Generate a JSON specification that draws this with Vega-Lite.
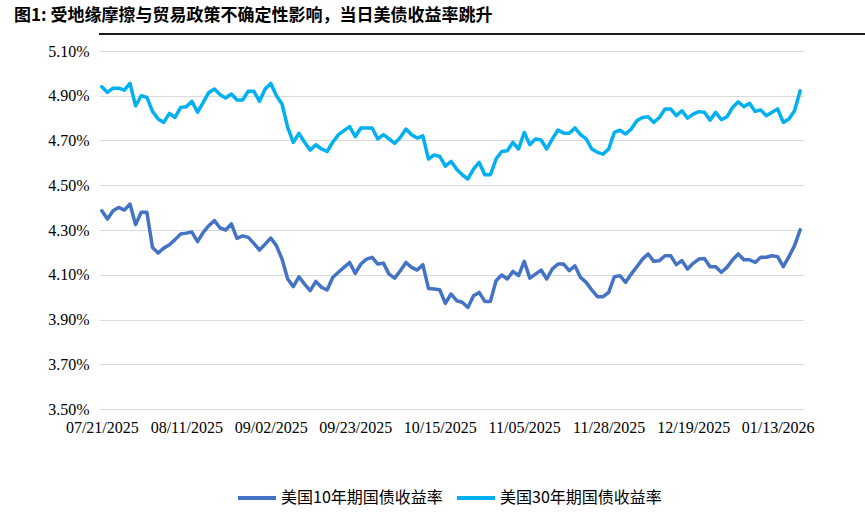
{
  "$schema": "https://vega.github.io/schema/vega-lite/v6.json",
  "padding": {"left": 14, "top": 7, "right": 6, "bottom": 6},
  "background": "white",
  "title": {"text": "图1: 受地缘摩擦与贸易政策不确定性影响，当日美债收益率跳升", "anchor": "start", "font": "Noto Sans CJK SC", "fontSize": 17, "fontWeight": "bold", "color": "#000", "offset": 3},
  "data": {"values": [
{"d":"07/21/2025","a":4.386,"b":4.940},{"d":"07/22/2025","a":4.349,"b":4.915},{"d":"07/23/2025","a":4.386,"b":4.934},{"d":"07/24/2025","a":4.401,"b":4.934},{"d":"07/25/2025","a":4.389,"b":4.925},
{"d":"07/28/2025","a":4.416,"b":4.955},{"d":"07/29/2025","a":4.324,"b":4.855},{"d":"07/30/2025","a":4.379,"b":4.900},{"d":"07/31/2025","a":4.379,"b":4.893},{"d":"08/01/2025","a":4.222,"b":4.830},
{"d":"08/04/2025","a":4.197,"b":4.796},{"d":"08/05/2025","a":4.219,"b":4.781},{"d":"08/06/2025","a":4.234,"b":4.821},{"d":"08/07/2025","a":4.257,"b":4.803},{"d":"08/08/2025","a":4.282,"b":4.848},
{"d":"08/11/2025","a":4.286,"b":4.851},{"d":"08/12/2025","a":4.291,"b":4.875},{"d":"08/13/2025","a":4.248,"b":4.826},{"d":"08/14/2025","a":4.289,"b":4.870},{"d":"08/15/2025","a":4.319,"b":4.915},
{"d":"08/18/2025","a":4.342,"b":4.930},{"d":"08/19/2025","a":4.309,"b":4.905},{"d":"08/20/2025","a":4.300,"b":4.890},{"d":"08/21/2025","a":4.327,"b":4.908},{"d":"08/22/2025","a":4.263,"b":4.881},
{"d":"08/25/2025","a":4.274,"b":4.881},{"d":"08/26/2025","a":4.267,"b":4.920},{"d":"08/27/2025","a":4.240,"b":4.920},{"d":"08/28/2025","a":4.210,"b":4.875},{"d":"08/29/2025","a":4.237,"b":4.930},
{"d":"09/02/2025","a":4.264,"b":4.955},{"d":"09/03/2025","a":4.230,"b":4.900},{"d":"09/04/2025","a":4.170,"b":4.863},{"d":"09/05/2025","a":4.081,"b":4.759},{"d":"09/08/2025","a":4.047,"b":4.692},
{"d":"09/09/2025","a":4.091,"b":4.732},{"d":"09/10/2025","a":4.058,"b":4.692},{"d":"09/11/2025","a":4.029,"b":4.657},{"d":"09/12/2025","a":4.070,"b":4.681},{"d":"09/15/2025","a":4.044,"b":4.662},
{"d":"09/16/2025","a":4.032,"b":4.651},{"d":"09/17/2025","a":4.088,"b":4.692},{"d":"09/18/2025","a":4.111,"b":4.726},{"d":"09/19/2025","a":4.133,"b":4.744},{"d":"09/22/2025","a":4.155,"b":4.762},
{"d":"09/23/2025","a":4.106,"b":4.717},{"d":"09/24/2025","a":4.148,"b":4.756},{"d":"09/25/2025","a":4.170,"b":4.756},{"d":"09/26/2025","a":4.178,"b":4.756},{"d":"09/29/2025","a":4.148,"b":4.707},
{"d":"09/30/2025","a":4.152,"b":4.726},{"d":"10/01/2025","a":4.103,"b":4.707},{"d":"10/02/2025","a":4.085,"b":4.687},{"d":"10/03/2025","a":4.118,"b":4.714},{"d":"10/06/2025","a":4.155,"b":4.751},
{"d":"10/07/2025","a":4.133,"b":4.726},{"d":"10/08/2025","a":4.121,"b":4.711},{"d":"10/09/2025","a":4.145,"b":4.721},{"d":"10/10/2025","a":4.039,"b":4.617},{"d":"10/14/2025","a":4.036,"b":4.635},
{"d":"10/15/2025","a":4.033,"b":4.629},{"d":"10/16/2025","a":3.972,"b":4.585},{"d":"10/17/2025","a":4.014,"b":4.607},{"d":"10/20/2025","a":3.984,"b":4.572},{"d":"10/21/2025","a":3.977,"b":4.547},
{"d":"10/22/2025","a":3.954,"b":4.528},{"d":"10/23/2025","a":4.006,"b":4.572},{"d":"10/24/2025","a":4.021,"b":4.602},{"d":"10/27/2025","a":3.981,"b":4.547},{"d":"10/28/2025","a":3.981,"b":4.547},
{"d":"10/29/2025","a":4.073,"b":4.617},{"d":"10/30/2025","a":4.099,"b":4.651},{"d":"10/31/2025","a":4.081,"b":4.654},{"d":"11/03/2025","a":4.115,"b":4.692},{"d":"11/04/2025","a":4.096,"b":4.662},
{"d":"11/05/2025","a":4.160,"b":4.736},{"d":"11/06/2025","a":4.085,"b":4.681},{"d":"11/07/2025","a":4.103,"b":4.707},{"d":"11/10/2025","a":4.121,"b":4.702},{"d":"11/12/2025","a":4.081,"b":4.662},
{"d":"11/13/2025","a":4.126,"b":4.707},{"d":"11/14/2025","a":4.148,"b":4.747},{"d":"11/17/2025","a":4.148,"b":4.733},{"d":"11/18/2025","a":4.118,"b":4.732},{"d":"11/19/2025","a":4.140,"b":4.756},
{"d":"11/20/2025","a":4.088,"b":4.726},{"d":"11/21/2025","a":4.066,"b":4.707},{"d":"11/24/2025","a":4.032,"b":4.662},{"d":"11/25/2025","a":4.002,"b":4.647},{"d":"11/26/2025","a":4.002,"b":4.639},
{"d":"11/28/2025","a":4.021,"b":4.662},{"d":"12/01/2025","a":4.091,"b":4.736},{"d":"12/02/2025","a":4.096,"b":4.746},{"d":"12/03/2025","a":4.066,"b":4.729},{"d":"12/04/2025","a":4.103,"b":4.751},
{"d":"12/05/2025","a":4.136,"b":4.788},{"d":"12/08/2025","a":4.170,"b":4.803},{"d":"12/09/2025","a":4.193,"b":4.806},{"d":"12/10/2025","a":4.160,"b":4.781},{"d":"12/11/2025","a":4.163,"b":4.803},
{"d":"12/12/2025","a":4.185,"b":4.841},{"d":"12/15/2025","a":4.185,"b":4.841},{"d":"12/16/2025","a":4.145,"b":4.811},{"d":"12/17/2025","a":4.163,"b":4.833},{"d":"12/18/2025","a":4.126,"b":4.800},
{"d":"12/19/2025","a":4.151,"b":4.818},{"d":"12/22/2025","a":4.170,"b":4.829},{"d":"12/23/2025","a":4.173,"b":4.826},{"d":"12/24/2025","a":4.136,"b":4.791},{"d":"12/26/2025","a":4.136,"b":4.826},
{"d":"12/29/2025","a":4.111,"b":4.793},{"d":"12/30/2025","a":4.133,"b":4.806},{"d":"12/31/2025","a":4.167,"b":4.848},{"d":"01/02/2026","a":4.193,"b":4.873},{"d":"01/05/2026","a":4.167,"b":4.851},
{"d":"01/06/2026","a":4.167,"b":4.866},{"d":"01/07/2026","a":4.155,"b":4.830},{"d":"01/08/2026","a":4.178,"b":4.836},{"d":"01/09/2026","a":4.178,"b":4.811},{"d":"01/12/2026","a":4.185,"b":4.826},
{"d":"01/13/2026","a":4.181,"b":4.841},{"d":"01/14/2026","a":4.136,"b":4.781},{"d":"01/15/2026","a":4.181,"b":4.796},{"d":"01/16/2026","a":4.230,"b":4.833},{"d":"01/20/2026","a":4.301,"b":4.922}
  ]},
  "spacing": 4,
  "vconcat": [
    {
      "width": 843,
      "height": 2,
      "view": {"fill": "#1a1a1a", "stroke": null},
      "mark": {"type": "text", "opacity": 0},
      "encoding": {"text": {"value": ""}}
    },
    {
      "width": 704,
      "height": 358,
      "transform": [{"fold": ["a", "b"], "as": ["series", "value"]}],
      "mark": {"type": "line", "strokeWidth": 3.5, "strokeJoin": "round", "strokeCap": "round"},
      "encoding": {
        "x": {
          "field": "d", "type": "ordinal", "sort": null,
          "scale": {"type": "point", "padding": 0.5},
          "axis": {
            "title": null, "values": ["07/21/2025","08/11/2025","09/02/2025","09/23/2025","10/15/2025","11/05/2025","11/28/2025","12/19/2025","01/13/2026"],
            "labelAngle": 0, "ticks": false, "domain": false, "grid": false,
            "labelFont": "Liberation Serif", "labelFontSize": 16, "labelColor": "#000", "labelPadding": 10, "labelOverlap": false
          }
        },
        "y": {
          "field": "value", "type": "quantitative",
          "scale": {"domain": [3.5, 5.1], "zero": false, "nice": false},
          "axis": {
            "title": null, "values": [3.5, 3.7, 3.9, 4.1, 4.3, 4.5, 4.7, 4.9, 5.1],
            "labelExpr": "format(datum.value, '.2f') + '%'",
            "ticks": false, "domain": false, "grid": true, "gridColor": "#d9d9d9", "gridWidth": 1,
            "labelFont": "Liberation Serif", "labelFontSize": 16, "labelColor": "#000", "labelPadding": 10, "minExtent": 85
          }
        },
        "color": {
          "field": "series", "type": "nominal",
          "scale": {"domain": ["a", "b"], "range": ["#4472C4", "#00B0F0"]},
          "legend": {
            "title": null, "orient": "none", "legendX": 137, "legendY": 444, "direction": "horizontal",
            "labelExpr": "datum.value == 'a' ? '美国10年期国债收益率' : '美国30年期国债收益率'",
            "symbolType": "stroke", "symbolSize": 1444, "symbolStrokeWidth": 4,
            "labelFont": "Noto Sans CJK SC", "labelFontSize": 16, "labelColor": "#000", "labelLimit": 300,
            "labelOffset": 3, "columnPadding": 6
          }
        }
      }
    }
  ],
  "config": {
    "view": {"stroke": null}
  }
}
